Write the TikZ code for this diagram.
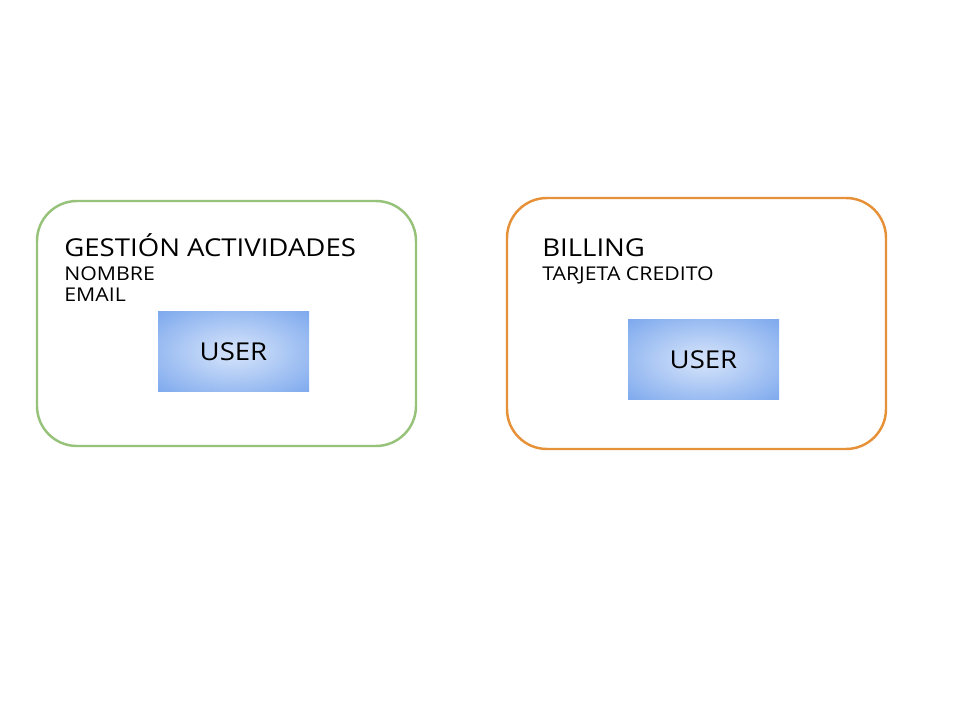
\documentclass[tikz,border=0pt]{standalone}
\usepackage{fontspec}
\setmainfont{Open Sans}[FakeStretch=1.12]
\usetikzlibrary{positioning}
\definecolor{ctxgreen}{HTML}{97C279}
\definecolor{ctxorange}{HTML}{E69138}
\definecolor{userin}{HTML}{D3E2FA}
\definecolor{userout}{HTML}{6D9EEB}
\pgfdeclareradialshading{userglow}{\pgfpoint{0bp}{0bp}}{color(0bp)=(userin); color(8bp)=(userin!85!userout); color(42bp)=(userout); color(80bp)=(userout)}
\tikzset{
 ctx/.style={draw, line width=1.4pt, rounded corners=0.8cm, minimum width=7.58cm, inner sep=0pt},
 user/.style={shading=userglow, minimum width=3.02cm, minimum height=1.6cm, inner sep=0pt, font=\fontsize{14}{16}\selectfont},
 ttl/.style={anchor=base west, inner sep=0pt, font=\fontsize{14}{16}\selectfont},
 attr/.style={anchor=base west, inner sep=0pt, font=\fontsize{10.8}{12}\selectfont}
}
\begin{document}
\begin{tikzpicture}
 \useasboundingbox (0,0) rectangle (19.2,14.4); %画像の大きさ
 \node[ctx, draw=ctxgreen, minimum height=4.9cm] (gestion) at (4.53,7.93) {}; %左の枠
 \node[ctx, draw=ctxorange, minimum height=5.02cm] (billing) at (13.93,7.93) {}; %右の枠
 \node[ttl] (gestiontitle) at (1.28,9.26) {GESTIÓN ACTIVIDADES}; %左の見出し
 \node[attr] (nombre) at (1.28,8.78) {NOMBRE}; %属性
 \node[attr] (email) at (1.28,8.36) {EMAIL}; %属性
 \node[ttl] (billingtitle) at (10.84,9.26) {BILLING}; %右の見出し
 \node[attr] (tarjeta) at (10.84,8.78) {TARJETA CREDITO}; %属性
 \node[user] (userg) at (4.67,7.36) {USER}; %左のUSER
 \node[user] (userb) at (14.07,7.2) {USER}; %右のUSER
\end{tikzpicture}
\end{document}
